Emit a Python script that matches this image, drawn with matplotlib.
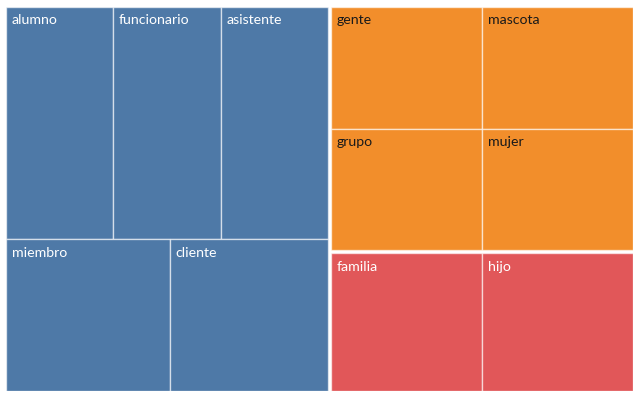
import matplotlib.pyplot as plt
from matplotlib.patches import Rectangle

# Data
groups = ['A', 'B', 'C']
group_colors = ['#4E79A7', '#F28E2B', '#E15759']
text_colors = ['white', '#1a1a1a', 'white']
labels = [
    ['alumno', 'funcionario', 'asistente', 'miembro', 'cliente'],
    ['gente', 'mascota', 'grupo', 'mujer'],
    ['familia', 'hijo'],
]
values = [
    [28, 28, 28, 28, 27],
    [20.7, 20.7, 20.7, 20.7],
    [23.6, 23.6],
]

W, H = 626.0, 384.0


def worst(row, side):
    s = sum(row)
    return max(max(side * side * r / (s * s), (s * s) / (side * side * r)) for r in row)


def squarify(sizes, x, y, w, h):
    # sizes already scaled to area
    rects = []
    sizes = list(sizes)
    while sizes:
        side = min(w, h)
        row = [sizes.pop(0)]
        while sizes and worst(row + [sizes[0]], side) <= worst(row, side):
            row.append(sizes.pop(0))
        s = sum(row)
        if w >= h:
            cw = s / h
            cy = y
            for r in row:
                rects.append((x, cy, cw, r / cw))
                cy += r / cw
            x += cw
            w -= cw
        else:
            ch = s / w
            cx = x
            for r in row:
                rects.append((cx, y, r / ch, ch))
                cx += r / ch
            y += ch
            h -= ch
    return rects


def rows_layout(vals, x, y, w, h):
    # items in rows, ceil(sqrt(n)) items per row
    n = len(vals)
    per = 1
    while per * per < n:
        per += 1
    chunks = [vals[i:i + per] for i in range(0, n, per)]
    total = sum(vals)
    rects = []
    cy = y
    for ch in chunks:
        rh = h * sum(ch) / total
        cx = x
        for v in ch:
            rw = w * v / sum(ch)
            rects.append((cx, cy, rw, rh))
            cx += rw
        cy += rh
    return rects


totals = [sum(v) for v in values]
scale = W * H / sum(totals)
group_rects = squarify([t * scale for t in totals], 0, 0, W, H)

fig = plt.figure(figsize=(6.4, 3.99), dpi=100)
ax = fig.add_axes([6 / 640, 1 - 391 / 399, 627 / 640, 384 / 399])
ax.set_xlim(0, W)
ax.set_ylim(H, 0)
ax.axis('off')

gap = 1.5
for gi, (gx, gy, gw, gh) in enumerate(group_rects):
    gx0, gy0 = gx + (gap if gx > 0 else 0), gy + (gap if gy > 0 else 0)
    gx1 = gx + gw - (gap if gx + gw < W - 0.5 else 0)
    gy1 = gy + gh - (gap if gy + gh < H - 0.5 else 0)
    items = rows_layout(values[gi], gx0, gy0, gx1 - gx0, gy1 - gy0)
    for (x, y, w, h), lab in zip(items, labels[gi]):
        ax.add_patch(Rectangle((x, y), w, h, facecolor=group_colors[gi],
                               edgecolor=(1, 1, 1, 0.6), linewidth=1.0))
        ax.text(x + 5.5, y + 7.5, lab, color=text_colors[gi], fontsize=10.2,
                family='Lato', ha='left', va='top')

fig.savefig('out.png', dpi=100, facecolor='white')
